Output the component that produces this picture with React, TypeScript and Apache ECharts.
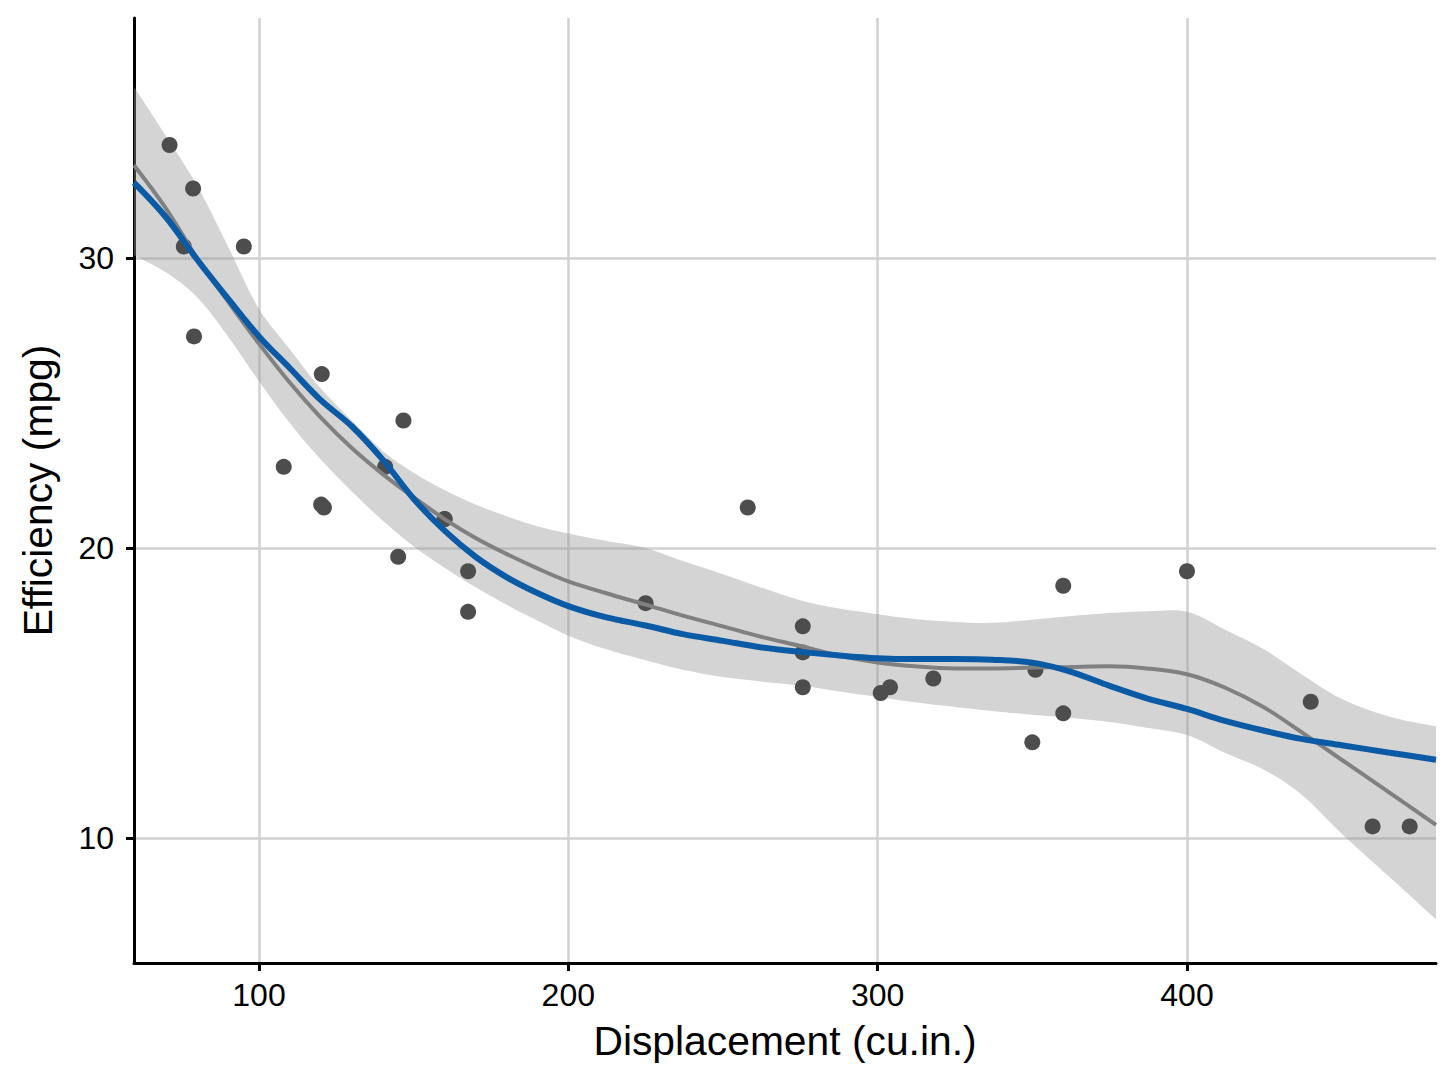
import { useEffect, useRef } from "react"
import * as echarts from "echarts"

// mtcars: displacement vs mpg
const DISP = [160, 160, 108, 258, 360, 225, 360, 146.7, 140.8, 167.6, 167.6, 275.8, 275.8, 275.8, 472, 460, 440, 78.7, 75.7, 71.1, 120.1, 318, 304, 350, 400, 79, 120.3, 95.1, 351, 145, 301, 121]
const MPG = [21.0, 21.0, 22.8, 21.4, 18.7, 18.1, 14.3, 24.4, 22.8, 19.2, 17.8, 16.4, 17.3, 15.2, 10.4, 10.4, 14.7, 32.4, 30.4, 33.9, 21.5, 15.5, 15.2, 13.3, 19.2, 27.3, 26.0, 30.4, 15.8, 19.7, 15.0, 21.4]

// smoother curves
const FIT_X = [59.6, 70, 80, 90, 100, 110, 120, 130, 140, 150, 160, 170, 180, 190, 200, 212, 225, 237, 250, 262, 275, 287, 300, 312, 325, 337, 350, 362, 375, 387, 400, 412, 425, 437, 450, 465, 480.5]
const LOESS_Y = [33.2, 31.7, 30.0, 28.5, 27.05, 25.7, 24.5, 23.45, 22.55, 21.75, 21.0, 20.35, 19.8, 19.3, 18.85, 18.45, 18.05, 17.67, 17.3, 16.95, 16.62, 16.3, 16.05, 15.92, 15.85, 15.85, 15.88, 15.9, 15.92, 15.85, 15.65, 15.2, 14.5, 13.65, 12.7, 11.6, 10.45]
const BAND_HI = [35.9, 34.2, 32.5, 30.4, 28.25, 26.85, 25.5, 24.4, 23.35, 22.6, 22.0, 21.5, 21.1, 20.75, 20.5, 20.25, 20.0, 19.55, 19.1, 18.65, 18.2, 17.92, 17.72, 17.55, 17.45, 17.42, 17.53, 17.65, 17.76, 17.82, 17.8, 17.2, 16.5, 15.65, 14.8, 14.2, 13.85]
const BAND_LO = [30.1, 29.5, 28.65, 27.3, 25.75, 24.3, 23.05, 21.95, 20.95, 20.06, 19.32, 18.65, 18.05, 17.5, 16.98, 16.52, 16.13, 15.8, 15.55, 15.4, 15.26, 15.06, 14.86, 14.68, 14.52, 14.38, 14.25, 14.15, 14.0, 13.8, 13.55, 12.95, 12.35, 11.5, 10.15, 8.7, 7.2]
const SPLINE_Y = [32.6, 31.4, 29.95, 28.6, 27.3, 26.2, 25.1, 24.2, 23.05, 21.7, 20.6, 19.7, 19.0, 18.45, 18.0, 17.62, 17.33, 17.03, 16.8, 16.58, 16.42, 16.3, 16.2, 16.17, 16.17, 16.15, 16.05, 15.75, 15.25, 14.82, 14.45, 14.05, 13.7, 13.42, 13.2, 12.95, 12.7]

const X_TICKS = [100, 200, 300, 400]
const Y_TICKS = [10, 20, 30]

const FONT = "'Liberation Sans', Arial, Helvetica, sans-serif"
const SMOOTH = 0.35

export default function App() {
  const chartRef = useRef<HTMLDivElement>(null)

  useEffect(() => {
    document.body.style.margin = "0"
    if (!chartRef.current) return
    const chart = echarts.init(chartRef.current, null, { renderer: "svg" })

    const axisCommon = {
      type: "value" as const,
      nameLocation: "middle" as const,
      nameTextStyle: { fontSize: 40.8, color: "#000", fontFamily: FONT },
      axisLine: { show: true, onZero: false, lineStyle: { color: "#000", width: 3 } },
      axisTick: { show: true, length: 8, lineStyle: { color: "#000", width: 3 } },
      axisLabel: { fontSize: 32, color: "#000", fontFamily: FONT },
      splitLine: { show: true, lineStyle: { color: "#d0d0d0", width: 2.5 } },
    }

    // confidence band as one closed polygon (upper edge, then lower edge back)
    const renderBand = (_params: any, api: any) => {
      const n = FIT_X.length
      const pts: number[][] = []
      for (let i = 0; i < n; i++) pts.push(api.coord([FIT_X[i], BAND_HI[i]]))
      for (let i = n - 1; i >= 0; i--) pts.push(api.coord([FIT_X[i], BAND_LO[i]]))
      // doubled corners keep the vertical ends sharp when smoothing
      const upperL = pts[0]
      const upperR = pts[n - 1]
      const lowerR = pts[n]
      const lowerL = pts[2 * n - 1]
      const points = [upperL, ...pts.slice(0, n), upperR, lowerR, ...pts.slice(n), lowerL]
      return {
        type: "polygon",
        shape: { points, smooth: SMOOTH },
        style: { fill: "rgba(153,153,153,0.42)", stroke: "none" },
      }
    }

    chart.setOption({
      animation: false,
      backgroundColor: "#fff",
      grid: { left: 134, right: 20, top: 18, bottom: 129, containLabel: false },
      xAxis: {
        ...axisCommon,
        min: 59.6,
        max: 480.5,
        name: "Displacement (cu.in.)",
        nameGap: 57,
        axisTick: { ...axisCommon.axisTick, customValues: X_TICKS },
        axisLabel: { ...axisCommon.axisLabel, margin: 16, customValues: X_TICKS },
      },
      yAxis: {
        ...axisCommon,
        min: 5.69,
        max: 38.28,
        name: "Efficiency (mpg)",
        nameGap: 76,
        nameRotate: 90,
        axisTick: { ...axisCommon.axisTick, customValues: Y_TICKS },
        axisLabel: { ...axisCommon.axisLabel, margin: 20, customValues: Y_TICKS },
      },
      series: [
        {
          type: "custom",
          name: "band",
          z: 1,
          silent: true,
          clip: true,
          renderItem: renderBand,
          data: [[FIT_X[0], BAND_LO[0]]],
        },
        {
          type: "scatter",
          z: 2,
          symbolSize: 16,
          itemStyle: { color: "#4d4d4d", opacity: 1 },
          data: DISP.map((d, i) => [d, MPG[i]]),
        },
        {
          type: "line",
          z: 3,
          smooth: SMOOTH,
          symbol: "none",
          lineStyle: { color: "#808080", width: 4 },
          data: FIT_X.map((x, i) => [x, LOESS_Y[i]]),
        },
        {
          type: "line",
          z: 4,
          smooth: SMOOTH,
          symbol: "none",
          lineStyle: { color: "#0b5aa5", width: 6 },
          data: FIT_X.map((x, i) => [x, SPLINE_Y[i]]),
        },
      ],
    })

    return () => {
      chart.dispose()
    }
  }, [])

  return <div ref={chartRef} style={{ width: 1456, height: 1092 }} />
}
